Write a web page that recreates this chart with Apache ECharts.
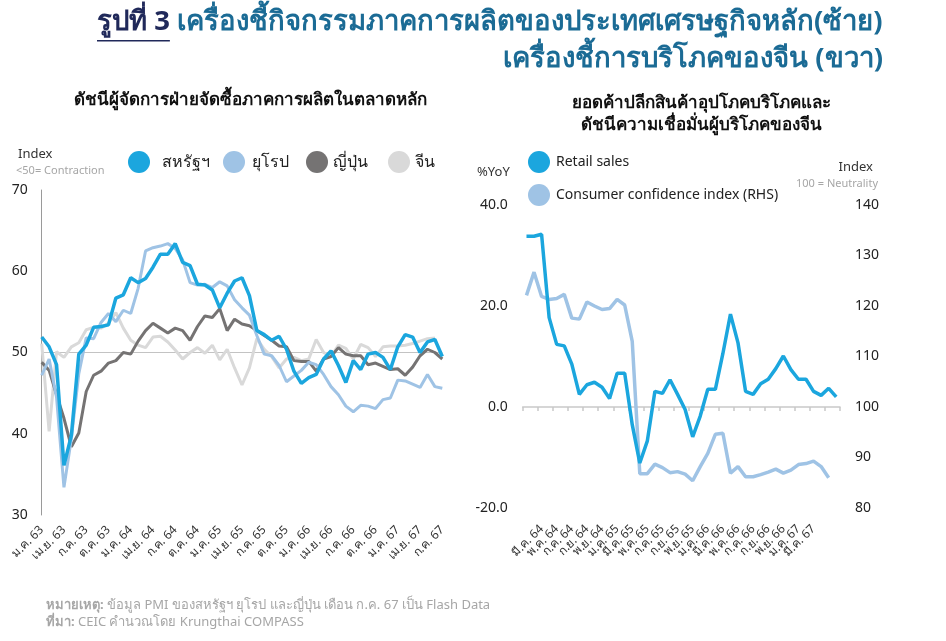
<!DOCTYPE html>
<html><head><meta charset="utf-8">
<script src="https://cdn.jsdelivr.net/npm/echarts@6.0.0/dist/echarts.min.js"></script>
<style>html,body{margin:0;padding:0;background:#fff}#c{width:946px;height:641px}</style>
</head><body><div id="c"></div>
<script>
const FONT = '"Noto Sans", "Open Sans", sans-serif';
const monthsTH = ['ม.ค.','ก.พ.','มี.ค.','เม.ย.','พ.ค.','มิ.ย.','ก.ค.','ส.ค.','ก.ย.','ต.ค.','พ.ย.','ธ.ค.'];

// Left chart: monthly, ม.ค. 63 – ก.ค. 67
const pmiCategories = [];
for (let y = 63; y <= 67; y++) for (let m = 0; m < 12; m++) { if (y === 67 && m > 6) break; pmiCategories.push(monthsTH[m] + ' ' + y); }

const usPMI = [51.9,50.7,48.5,36.1,39.8,49.8,50.9,53.1,53.2,53.4,56.7,57.1,
  59.2,58.6,59.1,60.5,62.1,62.1,63.4,61.1,60.7,58.4,58.3,57.7,
  55.5,57.3,58.8,59.2,57.0,52.7,52.2,51.5,52.0,50.4,47.7,46.2,
  46.9,47.3,49.2,50.2,48.4,46.3,49.0,47.9,49.8,50.0,49.4,47.9,
  50.7,52.2,51.9,50.0,51.3,51.6,49.5];
const euPMI = [47.2,49.2,44.5,33.4,39.4,47.4,51.8,51.7,53.7,54.8,53.8,55.2,
  54.8,57.9,62.5,62.9,63.1,63.4,62.8,61.4,58.6,58.3,58.4,58.0,
  58.7,58.2,56.5,55.5,54.6,52.1,49.8,49.6,48.4,46.4,47.1,47.8,
  48.8,48.5,47.3,45.8,44.8,43.4,42.7,43.5,43.4,43.1,44.2,44.4,
  46.6,46.5,46.1,45.7,47.3,45.8,45.6];
const jpPMI = [48.8,47.8,44.8,41.9,38.4,40.1,45.2,47.2,47.7,48.7,49.0,50.0,
  49.8,51.4,52.7,53.6,53.0,52.4,53.0,52.7,51.5,53.2,54.5,54.3,
  55.4,52.7,54.1,53.5,53.3,52.7,52.1,51.5,50.8,50.7,49.0,48.9,
  48.9,47.7,49.2,49.5,50.6,49.8,49.6,49.6,48.5,48.7,48.3,47.9,
  48.0,47.2,48.2,49.6,50.4,50.0,49.2];
const cnPMI = [51.1,40.3,50.1,49.4,50.7,51.2,52.8,53.1,53.0,53.6,54.9,53.0,
  51.5,50.9,50.6,51.9,52.0,51.3,50.3,49.2,50.0,50.6,49.9,50.9,
  49.1,50.4,48.1,46.0,48.1,51.7,50.4,49.5,48.1,49.2,49.4,49.0,
  49.2,51.6,50.0,49.5,50.9,50.5,49.2,51.0,50.6,49.5,50.7,50.8,
  50.8,50.9,51.1,51.4,51.7,51.8,null];

// Right chart: monthly, ม.ค. 64 – มิ.ย. 67
const chinaCategories = [];
for (let y = 64; y <= 67; y++) for (let m = 0; m < 12; m++) { if (y === 67 && m > 5) break; chinaCategories.push(monthsTH[m] + ' ' + y); }

const retailSales = [33.8,33.8,34.2,17.7,12.4,12.1,8.5,2.5,4.4,4.9,3.9,1.7,
  6.7,6.7,-3.5,-11.1,-6.7,3.1,2.7,5.4,2.5,-0.5,-5.9,-1.8,
  3.5,3.5,10.6,18.4,12.7,3.1,2.5,4.6,5.5,7.6,10.1,7.4,
  5.5,5.5,3.1,2.3,3.7,2.0];
const consumerConf = [122.1,126.7,121.9,121.3,121.5,122.3,117.6,117.4,120.8,120.0,119.3,119.5,
  121.3,120.2,113.0,86.8,86.8,88.7,88.0,87.0,87.2,86.7,85.4,88.2,
  90.8,94.6,94.8,86.9,88.2,86.2,86.2,86.6,87.1,87.7,86.9,87.5,
  88.6,88.8,89.3,88.2,86.0,null];

const leftTicks = [30, 40, 50, 60, 70];
const C_US = '#1ba6de', C_EU = '#9fc3e5', C_JP = '#757373', C_CN = '#d9d9d9';
const NAVY = '#20295a', TEAL = '#1b6b95';

const chart = echarts.init(document.getElementById('c'), null, {renderer: 'canvas'});

function measure(txt, font) {
  const cv = document.createElement('canvas').getContext('2d');
  cv.font = font; return cv.measureText(txt).width;
}
const titleFont = 'bold 27.5px ' + FONT;
const ulW = measure('รูปที่ 3', titleFont);

const gray = '#a6a6a6';
const txt = (x, y, text, font, fill, align) => ({type: 'text', x, y, silent: true,
  style: {text, font, fill, align: align || 'left', verticalAlign: 'middle'}});

const legendBase = {orient: 'horizontal', icon: 'circle', itemWidth: 22, itemHeight: 22, padding: 0,
  selectedMode: false};

chart.setOption({
  animation: false,
  textStyle: {fontFamily: FONT},
  graphic: [
    {type: 'text', x: 97, y: 22, silent: true, style: {
      text: '{a|รูปที่ 3} {b|เครื่องชี้กิจกรรมภาคการผลิตของประเทศเศรษฐกิจหลัก(ซ้าย)}',
      verticalAlign: 'middle', font: titleFont,
      rich: {a: {fill: NAVY, font: titleFont}, b: {fill: TEAL, font: titleFont}}}},
    {type: 'rect', shape: {x: 97, y: 40, width: ulW, height: 1.5}, style: {fill: NAVY}, silent: true},
    txt(883, 59, 'เครื่องชี้การบริโภคของจีน (ขวา)', titleFont, TEAL, 'right'),
    txt(250, 100, 'ดัชนีผู้จัดการฝ่ายจัดซื้อภาคการผลิตในตลาดหลัก', 'bold 17px ' + FONT, '#111', 'center'),
    txt(701, 103, 'ยอดค้าปลีกสินค้าอุปโภคบริโภคและ', 'bold 17px ' + FONT, '#111', 'center'),
    txt(701, 125, 'ดัชนีความเชื่อมั่นผู้บริโภคของจีน', 'bold 17px ' + FONT, '#111', 'center'),
    txt(18, 154, 'Index', '13px ' + FONT, '#333'),
    txt(16, 171, '<50= Contraction', '11px ' + FONT, gray),
    txt(477, 172, '%YoY', '13px ' + FONT, '#333'),
    txt(873, 167, 'Index', '13px ' + FONT, '#333', 'right'),
    txt(878, 184, '100 = Neutrality', '11px ' + FONT, gray, 'right'),
    {type: 'text', x: 46, y: 605, silent: true, style: {
      text: '{b|หมายเหตุ:} ข้อมูล PMI ของสหรัฐฯ ยุโรป และญี่ปุ่น เดือน ก.ค. 67 เป็น Flash Data',
      font: '13px ' + FONT, fill: gray, verticalAlign: 'middle',
      rich: {b: {font: 'bold 13px ' + FONT, fill: gray}}}},
    {type: 'text', x: 46, y: 622, silent: true, style: {
      text: '{b|ที่มา:} CEIC คำนวณโดย Krungthai COMPASS',
      font: '13px ' + FONT, fill: gray, verticalAlign: 'middle',
      rich: {b: {font: 'bold 13px ' + FONT, fill: gray}}}}
  ],
  legend: [
    Object.assign({}, legendBase, {left: 128, top: 151, data: ['สหรัฐฯ'], textStyle: {fontSize: 16, color: '#222', padding: [0,0,0,7]}}),
    Object.assign({}, legendBase, {left: 223, top: 151, data: ['ยุโรป'], textStyle: {fontSize: 16, color: '#222', padding: [0,0,0,2]}}),
    Object.assign({}, legendBase, {left: 306, top: 151, data: ['ญี่ปุ่น'], textStyle: {fontSize: 16, color: '#222', padding: [0,0,0,0]}}),
    Object.assign({}, legendBase, {left: 388, top: 151, data: ['จีน'], textStyle: {fontSize: 16, color: '#222', padding: [0,0,0,0]}}),
    Object.assign({}, legendBase, {orient: 'vertical', left: 528, top: 151, itemGap: 11,
      data: ['Retail sales', 'Consumer confidence index (RHS)'], textStyle: {fontSize: 14, color: '#222', padding: [0,0,0,1]}})
  ],
  grid: [
    {left: 41.7, top: 190, width: 400.6, height: 325},
    {left: 522.7, top: 205, width: 317.3, height: 303}
  ],
  xAxis: [
    {gridIndex: 0, type: 'category', data: pmiCategories, boundaryGap: false,
      axisLine: {show: false}, axisTick: {show: false}, splitLine: {show: false},
      axisLabel: {interval: 2, rotate: 45, fontSize: 12, color: '#333', margin: 13, hideOverlap: false}},
    {gridIndex: 1, type: 'category', data: chinaCategories, boundaryGap: true,
      axisLine: {show: false, onZero: false}, axisTick: {show: false}, splitLine: {show: false},
      axisLabel: {interval: 1, rotate: 45, fontSize: 12, color: '#333', margin: 19, hideOverlap: false}},
    {gridIndex: 1, type: 'category', data: chinaCategories, boundaryGap: true, position: 'top',
      axisLine: {show: true, onZero: true, onZeroAxisIndex: 1, lineStyle: {color: '#c9c9c9', width: 1.5}},
      axisTick: {show: true, interval: 1, inside: true, length: 4, lineStyle: {color: '#c9c9c9', width: 1.5}},
      axisLabel: {show: false}, splitLine: {show: false}}
  ],
  yAxis: [
    {gridIndex: 0, type: 'value', min: leftTicks[0], max: leftTicks[leftTicks.length - 1], interval: 10,
      axisLine: {show: true, onZero: false, lineStyle: {color: '#9a9a9a', width: 1}},
      axisTick: {show: false}, splitLine: {show: false},
      axisLabel: {fontSize: 14, color: '#222', margin: 14}},
    {gridIndex: 1, type: 'value', min: -20, max: 40, interval: 20, position: 'left',
      axisLine: {show: false}, axisTick: {show: false}, splitLine: {show: false},
      axisLabel: {fontSize: 14, color: '#222', margin: 15, formatter: v => v.toFixed(1)}},
    {gridIndex: 1, type: 'value', min: 80, max: 140, interval: 10, position: 'right',
      axisLine: {show: false}, axisTick: {show: false}, splitLine: {show: false},
      axisLabel: {fontSize: 14, color: '#222', margin: 15}}
  ],
  series: [
    {name: 'จีน', type: 'line', xAxisIndex: 0, yAxisIndex: 0, data: cnPMI, symbol: 'none', z: 2,
      lineStyle: {color: C_CN, width: 3}, itemStyle: {color: C_CN},
      markLine: {silent: true, symbol: 'none', label: {show: false}, z: 1,
        lineStyle: {color: '#c3c3c3', width: 1, type: 'solid'}, data: [{yAxis: 50}]}},
    {name: 'ญี่ปุ่น', type: 'line', xAxisIndex: 0, yAxisIndex: 0, data: jpPMI, symbol: 'none', z: 3,
      lineStyle: {color: C_JP, width: 3}, itemStyle: {color: C_JP}},
    {name: 'ยุโรป', type: 'line', xAxisIndex: 0, yAxisIndex: 0, data: euPMI, symbol: 'none', z: 4,
      lineStyle: {color: C_EU, width: 3}, itemStyle: {color: C_EU}},
    {name: 'สหรัฐฯ', type: 'line', xAxisIndex: 0, yAxisIndex: 0, data: usPMI, symbol: 'none', z: 5,
      lineStyle: {color: C_US, width: 3.5}, itemStyle: {color: C_US}},
    {name: 'Consumer confidence index (RHS)', type: 'line', xAxisIndex: 1, yAxisIndex: 2, data: consumerConf,
      symbol: 'none', z: 3, lineStyle: {color: C_EU, width: 3.5}, itemStyle: {color: C_EU}},
    {name: 'Retail sales', type: 'line', xAxisIndex: 1, yAxisIndex: 1, data: retailSales,
      symbol: 'none', z: 4, lineStyle: {color: C_US, width: 3.5}, itemStyle: {color: C_US}}
  ]
});
</script></body></html>
